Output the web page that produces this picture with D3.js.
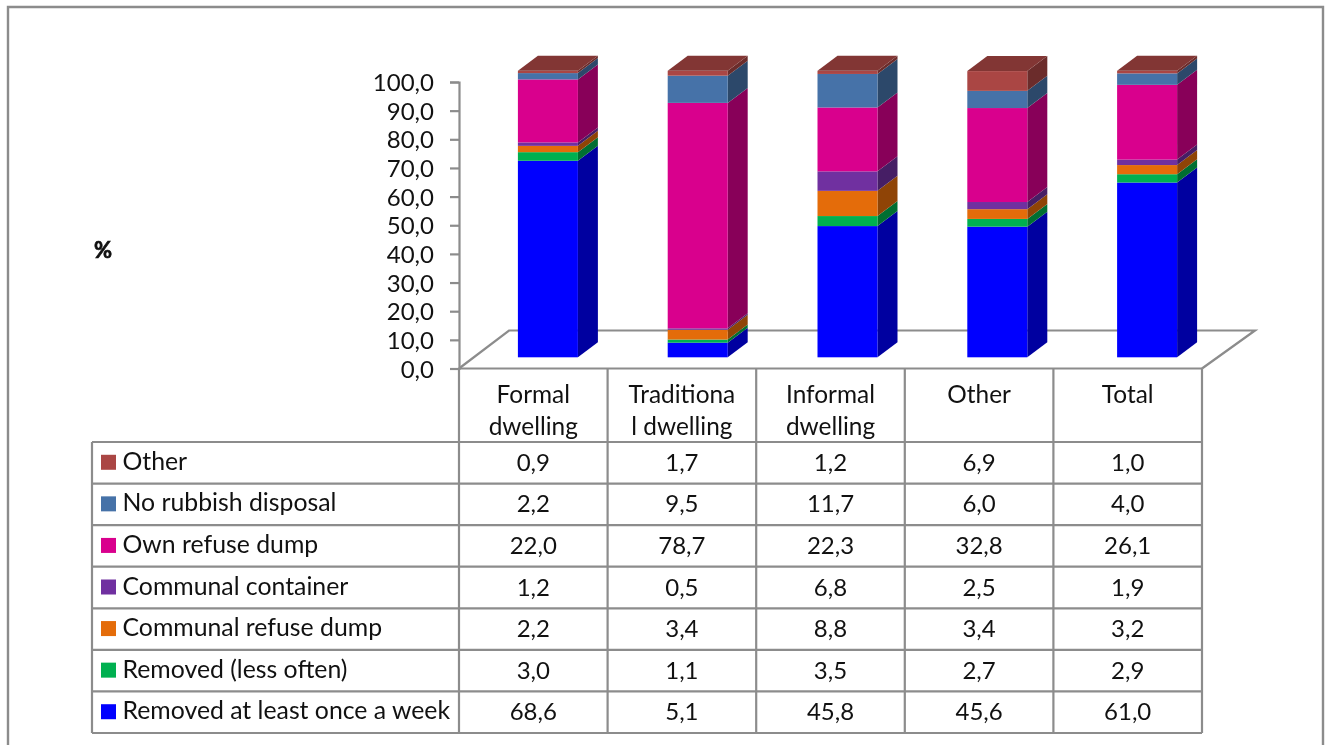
<!DOCTYPE html>
<html><head><meta charset="utf-8">
<script src="https://cdnjs.cloudflare.com/ajax/libs/d3/7.8.5/d3.min.js"></script>
<style>html,body{margin:0;padding:0;background:#fff}svg{display:block;filter:blur(0.35px)}text{font-family:Lato,"Open Sans",sans-serif;fill:#111}</style>
</head><body><svg id="c" width="1325" height="745"></svg>
<script>
const categories = ["Formal dwelling","Traditional dwelling","Informal dwelling","Other","Total"];
const categoryLines = [["Formal","dwelling"],["Traditiona","l dwelling"],["Informal","dwelling"],["Other"],["Total"]];
const seriesNames = ["Removed at least once a week","Removed (less often)","Communal refuse dump","Communal container","Own refuse dump","No rubbish disposal","Other"];
const seriesColors = ["#0000ff","#00b050","#e46c0a","#7030a0","#d9008d","#4672a8","#aa4644"];
const removedWeekly = [68.6,5.1,45.8,45.6,61.0];
const removedLess = [3.0,1.1,3.5,2.7,2.9];
const communalDump = [2.2,3.4,8.8,3.4,3.2];
const communalContainer = [1.2,0.5,6.8,2.5,1.9];
const ownDump = [22.0,78.7,22.3,32.8,26.1];
const noDisposal = [2.2,9.5,11.7,6.0,4.0];
const otherDisposal = [0.9,1.7,1.2,6.9,1.0];
const seriesValues = [removedWeekly,removedLess,communalDump,communalContainer,ownDump,noDisposal,otherDisposal];
const tickValues = [0,10,20,30,40,50,60,70,80,90,100];

const svg = d3.select("#c");
const grey = "#8c8c8c", fsNum = 24, fsHead = 24.4, fsRow = 24.8;
const X0=459, X1=1202, TL=92, rowTop=442, rowBot=733, axisBase=368.5, axisTop=82;
const DX=20, DY=15, LIFT=11.2, BARW=60;

// outer frame
svg.append("path").attr("d","M8,745V7H1323V745").attr("fill","none").attr("stroke",grey).attr("stroke-width",2.4);

const y = d3.scaleLinear().domain([0,100]).range([axisBase,axisTop]);
const xTable = d3.scaleBand().domain(categories).range([X0,X1]);
const xBars = d3.scaleBand().domain(categories).range([473,1222]);
const yRows = d3.scaleBand().domain(seriesNames.slice().reverse()).range([rowTop,rowBot]);

// floor
svg.append("path").attr("d",`M${X0},${axisBase}L${X0+50},${y(0)-38}H${X1+53}L${X1},${axisBase}`)
  .attr("fill","#fff").attr("stroke",grey).attr("stroke-width",2.2);

// value axis
const axis = d3.axisLeft(y).tickValues(tickValues).tickSize(9).tickPadding(16)
  .tickFormat(d=>d3.format(".1f")(d).replace(".",","));
const ag = svg.append("g").attr("transform",`translate(${X0},0)`).call(axis);
ag.selectAll("path,line").attr("stroke",grey).attr("stroke-width",2.2);
ag.selectAll("text").attr("font-size",fsNum).attr("dy","0.36em").attr("fill","#111");
ag.attr("font-family",null);

// stacked 3D bars
const rows = categories.map((c,i)=>{const o={cat:c};seriesNames.forEach((s,k)=>o[s]=seriesValues[k][i]);return o;});
const stacked = d3.stack().keys(seriesNames)(rows);
const bars = svg.append("g");
stacked.forEach((layer,k)=>{
  const col = seriesColors[k];
  const g = bars.append("g");
  layer.forEach(d=>{
    const cx = xBars(d.data.cat)+xBars.bandwidth()/2, l=cx-BARW/2, r=cx+BARW/2;
    const yb=y(Math.min(d[0],100))-LIFT, yt=y(Math.min(d[1],100))-LIFT;
    g.append("path").attr("d",`M${r},${yb}L${r+DX},${yb-DY}V${yt-DY}L${r},${yt}Z`)
      .attr("fill",d3.color(col).darker(1.3));
    g.append("rect").attr("x",l).attr("y",yt).attr("width",BARW).attr("height",yb-yt).attr("fill",col);
    if(k===seriesNames.length-1){
      g.append("path").attr("d",`M${l},${yt}L${l+DX},${yt-DY}H${r+DX}L${r},${yt}Z`)
        .attr("fill",d3.color(col).darker(0.75));
    }
  });
});

// data table lines
const lines = svg.append("g").attr("stroke",grey).attr("stroke-width",2.2).attr("fill","none");
lines.append("path").attr("d",`M${X0},${axisBase}H${X1}`);
xTable.domain().forEach(c=>lines.append("path").attr("d",`M${xTable(c)},${axisBase}V${rowBot}`));
lines.append("path").attr("d",`M${X1},${axisBase}V${rowBot}`);
lines.append("path").attr("d",`M${TL},${rowTop}V${rowBot}`);
seriesNames.forEach(s=>lines.append("path").attr("d",`M${TL},${yRows(s)}H${X1}`));
lines.append("path").attr("d",`M${TL},${rowBot}H${X1}`);

// header labels
categories.forEach((c,i)=>{
  const cx=xTable(c)+xTable.bandwidth()/2;
  categoryLines[i].forEach((t,j)=>svg.append("text").attr("x",cx).attr("y",403+j*32)
    .attr("text-anchor","middle").attr("font-size",fsHead).text(t));
});

// row labels, legend keys and cell values
seriesNames.forEach((s,k)=>{
  const ym=yRows(s)+yRows.bandwidth()/2;
  svg.append("rect").attr("x",101).attr("y",ym-8).attr("width",15).attr("height",15).attr("fill",seriesColors[k]);
  svg.append("text").attr("x",122.5).attr("y",ym+7).attr("font-size",fsRow).text(s);
  categories.forEach((c,i)=>svg.append("text").attr("x",xTable(c)+xTable.bandwidth()/2).attr("y",ym+8)
    .attr("text-anchor","middle").attr("font-size",fsNum).text(d3.format(".1f")(seriesValues[k][i]).replace(".",",")));
});

// axis title
svg.append("text").attr("x",94).attr("y",258).attr("font-size",22).attr("font-weight",700)
  .attr("stroke","#111").attr("stroke-width",0.7).text("%");
</script></body></html>
